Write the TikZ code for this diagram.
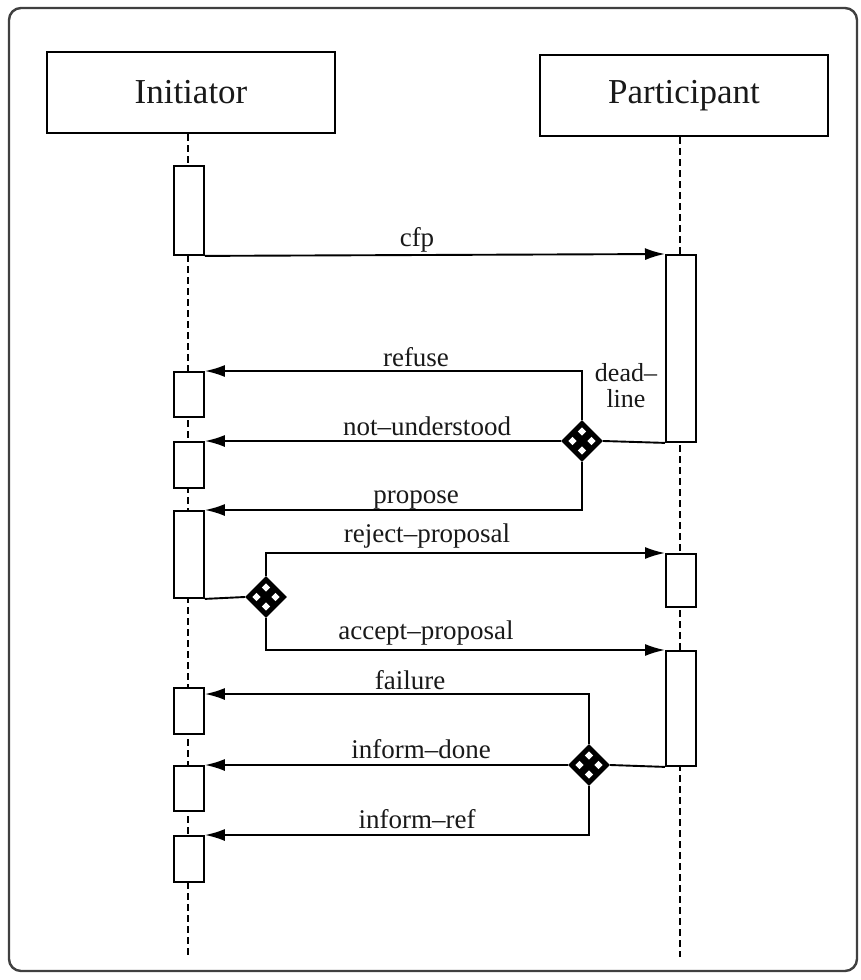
\documentclass[tikz,border=0pt]{standalone}
\usepackage{fontspec}
\setmainfont{Liberation Serif}
\usetikzlibrary{arrows.meta,calc,shapes.geometric}

\begin{document}
\begin{tikzpicture}[x=1pt,y=-1pt,
  every node/.style={inner sep=0pt, text=black!90},
  head/.style={draw, line width=2pt, minimum width=288pt, minimum height=81pt,
    font=\fontsize{35}{40}\selectfont},
  act/.style={draw, fill=white, line width=1.9pt, minimum width=30pt, anchor=north west},
  life/.style={line width=1.7pt, dash pattern=on 7pt off 4pt},
  msg/.style={line width=1.9pt, -{Latex[length=20pt,width=12pt]}},
  wire/.style={line width=1.9pt},
  lbl/.style={font=\fontsize{27}{30}\selectfont, anchor=base},
  xorgate/.style={shape=diamond, fill=black, minimum width=42pt, minimum height=42pt,
    inner sep=0pt, aspect=1}
]
\useasboundingbox (0,0) rectangle (860,980);
\fill[white] (0,0) rectangle (860,980);

% outer frame
\draw[line width=2.4pt, black!75, rounded corners=12pt] (9,8) rectangle (857,971);

% roles
\node[head] (init) at (191,92.5) {Initiator};
\node[head] (part) at (684,95.5) {Participant};

% lifelines
\coordinate (initend) at (188,957);
\coordinate (partend) at (680,957);
\draw[life] (init.south -| initend) -- (initend);
\draw[life] (part.south -| partend) -- (partend);

% initiator activations
\node[act, minimum height=89pt] (a1) at (173,165) {};
\node[act, minimum height=45pt] (r1) at (173,371) {};
\node[act, minimum height=46pt] (r2) at (173,441) {};
\node[act, minimum height=87pt] (r3) at (173,510) {};
\node[act, minimum height=46pt] (f1) at (173,687) {};
\node[act, minimum height=45pt] (f2) at (173,765) {};
\node[act, minimum height=46pt] (f3) at (173,835) {};

% participant activations
\node[act, minimum height=187pt] (p1) at (665,254) {};
\node[act, minimum height=53pt]  (p2) at (665,553) {};
\node[act, minimum height=115pt] (p3) at (665,650) {};

% exclusive-or branch points
\node[xorgate] (d1) at (582,441) {};
\node[xorgate] (d2) at (266,597) {};
\node[xorgate] (d3) at (589,765) {};
\foreach \n in {d1,d2,d3} {
  \foreach \dx/\dy in {0/9.5, 0/-9.5, 9.5/0, -9.5/0} {
    \fill[white] ($(\n)+(\dx,\dy)$) +(-4.2,0) -- +(0,-4.2) -- +(4.2,0) -- +(0,4.2) -- cycle;
  }
}

% call for proposals
\draw[msg] (a1.south east) -- (p1.north west);
\node[lbl] (lcfp) at (417,246) {cfp};

% first answer
\draw[wire] (d1.east) -- (p1.south west);
\draw[msg] (d1.north) |- (r1.north east);
\draw[msg] (d1.west) -- (r2.north east);
\draw[msg] (d1.south) |- (r3.north east);
\node[lbl] (lref) at (416,366) {refuse};
\node[lbl] (lnu) at (427,435) {not–understood};
\node[lbl] (lprop) at (416,503) {propose};
\node[font=\fontsize{26}{26}\selectfont, align=center, anchor=base, text=black!90] (ldl) at (626,407) {dead–\\line};

% decision on the proposal
\draw[wire] (r3.south east) -- (d2.west);
\draw[msg] (d2.north) |- (p2.north west);
\draw[msg] (d2.south) |- (p3.north west);
\node[lbl] (lrej) at (427,542) {reject–proposal};
\node[lbl] (lacc) at (426,639) {accept–proposal};

% outcome
\draw[wire] (p3.south west) -- (d3.east);
\draw[msg] (d3.north) |- ([yshift=-7pt]f1.north east);
\draw[msg] (d3.west) -- (f2.north east);
\draw[msg] (d3.south) |- (f3.north east);
\node[lbl] (lfail) at (410,689) {failure};
\node[lbl] (ldone) at (421,758) {inform–done};
\node[lbl] (lrefm) at (417,828) {inform–ref};
\end{tikzpicture}
\end{document}
